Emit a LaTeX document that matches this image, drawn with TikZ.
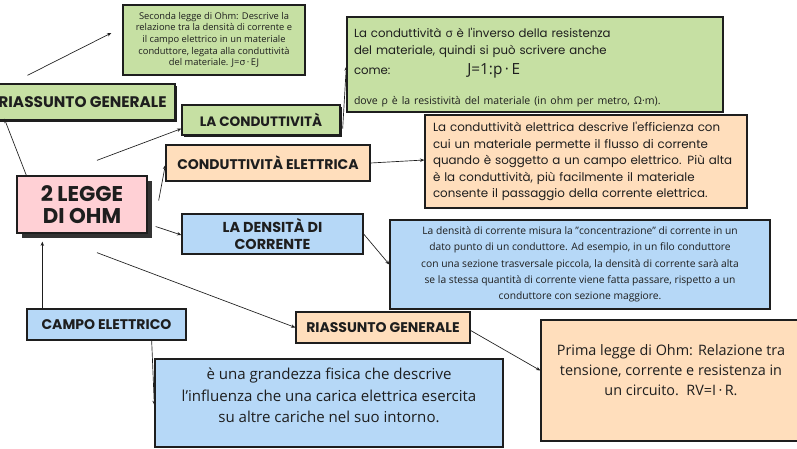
\documentclass[tikz,border=0pt]{standalone}
\usepackage{fontspec}
\setmainfont{Open Sans}
\newfontfamily\headfont{Poppins}
\usetikzlibrary{arrows.meta,calc,shadows}

\definecolor{mapgreen}{RGB}{198,224,163}
\definecolor{maporange}{RGB}{255,222,188}
\definecolor{mapblue}{RGB}{182,216,247}
\definecolor{mappink}{RGB}{255,208,213}
\definecolor{mapink}{RGB}{30,30,30}

\begin{document}
\begin{tikzpicture}[x=0.75pt, y=-0.75pt,
    card/.style={draw=mapink, line width=1pt, inner sep=0pt, align=center, text=mapink},
    head/.style={card, font=\headfont\bfseries\fontsize{10.5}{12}\selectfont},
    shade/.style={drop shadow={shadow xshift=1.5pt, shadow yshift=-1.5pt, fill=mapink, opacity=1}},
    conn/.style={-{Stealth[length=3.2pt,width=2.6pt]}, line width=0.5pt, mapink}
]
\useasboundingbox (0,0) rectangle (797,449);

% Central topic
\node[card, fill=mappink, minimum width=97.5pt, minimum height=42.75pt,
      font=\headfont\bfseries\fontsize{16}{16}\selectfont,
      drop shadow={shadow xshift=3.75pt, shadow yshift=-3.75pt, fill=black!80, opacity=1}]
      (ohm) at (82,204.5) {2 LEGGE\\DI OHM};

% Green branch
\node[head, fill=mapgreen, shade, minimum width=138.75pt, minimum height=27pt,
      font=\headfont\bfseries\fontsize{11.5}{13}\selectfont] (riasTop) at (82.5,102) {RIASSUNTO GENERALE};
\node[card, fill=mapgreen, minimum width=136.5pt, minimum height=52.5pt,
      font=\fontsize{7}{8.75}\selectfont] (note2) at (214,40)
      {Seconda legge di Ohm: Descrive la\\relazione tra la densità di corrente e\\il campo elettrico in un materiale\\conduttore, legata alla conduttività\\del materiale. J=σ\,·\,EJ};
\node[head, fill=mapgreen, shade, minimum width=118.5pt, minimum height=22.5pt,
      font=\headfont\bfseries\fontsize{10.2}{12}\selectfont] (condu) at (261,120) {LA CONDUTTIVITÀ};
\node[card, fill=mapgreen, minimum width=282pt, minimum height=71.25pt, align=left,
      text width=271.5pt, inner xsep=5.25pt,
      font=\headfont\fontsize{8.8}{12.75}\selectfont] (conduText) at (535,64.5)
      {\rule{0pt}{11.5pt}La conduttività {\rmfamily σ} è l'inverso della resistenza\\
       del materiale, quindi si può scrivere anche\\[2.25pt]
       \makebox[85pt][l]{come:}{\rmfamily\fontsize{11.5}{12}\selectfont J=1:p\,·\,E}\\[9.75pt]
       {\rmfamily\fontsize{7.9}{9}\selectfont dove ρ è la resistività del materiale (in ohm per metro, Ω·m).}};

% Orange branch
\node[head, fill=maporange, minimum width=153pt, minimum height=27pt] (condEl) at (268,163) {CONDUTTIVITÀ ELETTRICA};
\node[card, fill=maporange, minimum width=241.5pt, minimum height=69.75pt, align=left,
      text width=229.5pt, inner xsep=6pt,
      font=\headfont\fontsize{8.9}{12.4}\selectfont] (condElText) at (586,161.5)
      {La conduttività elettrica descrive l'efficienza con\\cui un materiale permette il flusso di corrente\\quando è soggetto a un campo elettrico. Più alta\\è la conduttività, più facilmente il materiale\\consente il passaggio della corrente elettrica.};

% Blue branch
\node[head, fill=mapblue, minimum width=135.75pt, minimum height=30pt,
      font=\headfont\bfseries\fontsize{10.8}{12.75}\selectfont] (dens) at (272.5,234) {LA DENSITÀ DI\\CORRENTE};
\node[card, fill=mapblue, minimum width=285pt, minimum height=66.75pt,
      font=\fontsize{7.7}{12.2}\selectfont] (densText) at (580,264.5)
      {La densità di corrente misura la "concentrazione" di corrente in un\\dato punto di un conduttore. Ad esempio, in un filo conduttore\\con una sezione trasversale piccola, la densità di corrente sarà alta\\se la stessa quantità di corrente viene fatta passare, rispetto a un\\conduttore con sezione maggiore.};

% Electric field
\node[head, fill=mapblue, minimum width=119.25pt, minimum height=23.25pt] (campo) at (106.5,324.5) {CAMPO ELETTRICO};
\node[card, fill=mapblue, minimum width=261pt, minimum height=66pt, text depth=11.5pt,
      font=\fontsize{11.3}{16}\selectfont] (campoText) at (329,403)
      {è una grandezza fisica che descrive\\l'influenza che una carica elettrica esercita\\su altre cariche nel suo intorno.};

% First law summary
\node[head, fill=maporange, minimum width=130.5pt, minimum height=23.25pt] (riasBot) at (383,327.5) {RIASSUNTO GENERALE};
\node[card, fill=maporange, minimum width=195pt, minimum height=90.75pt, text depth=15pt,
      font=\fontsize{10.8}{15}\selectfont] (primaText) at (671,380.5)
      {Prima legge di Ohm: Relazione tra\\tensione, corrente e resistenza in\\un circuito.~~RV=I\,·\,R.};

% Connectors
\draw[conn] ($(riasTop.north)+(-55,-8)$) -- ($(note2.west)+(-11,-7)$);
\draw[conn] ($(ohm.north west)+(10,0)$) -- ($(riasTop.south west)+(15,-2)$);
\draw[conn] ($(ohm.north)+(15,-15)$) -- ($(condu.south west)+(0,-7)$);
\draw[conn] ($(condu.south east)+(2,-7)$) -- ($(conduText.west)+(0,2)$);
\draw[conn] ($(ohm.east)+(11,-4)$) -- ($(condEl.west)+(0,2)$);
\draw[conn] (condEl.east) -- ($(condElText.west)+(0,-1.5)$);
\draw[conn] ($(ohm.east)+(8,22)$) -- ($(dens.west)+(0,1)$);
\draw[conn] (dens.east) -- (densText.west);
\draw[conn] ($(ohm.south)+(15,19)$) -- (riasBot.west);
\draw[conn] ($(riasBot.east)+(0,3)$) -- ($(primaText.west)+(0,-10)$);
\draw[conn] ($(campo.north west)+(16,0)$) -- ($(ohm.south west)+(26,8)$);
\draw[conn] ($(campo.south east)+(-35,0)$) -- ($(campoText.west)+(0,2)$);
\end{tikzpicture}
\end{document}
